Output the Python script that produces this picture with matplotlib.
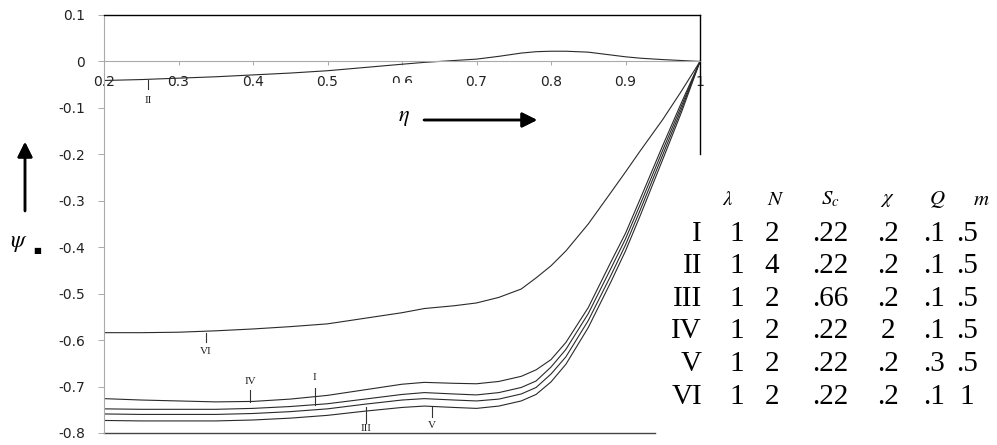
import matplotlib
matplotlib.use("Agg")
import matplotlib.pyplot as plt
from matplotlib.patches import Rectangle

# ---------------- data ----------------
eta = [0.2, 0.25, 0.3, 0.35, 0.4, 0.45, 0.5, 0.55, 0.6, 0.63, 0.67, 0.7, 0.73,
       0.76, 0.78, 0.8, 0.82, 0.85, 0.88, 0.9, 0.92, 0.95, 0.975, 1.0]

psi_I = [-0.748, -0.749, -0.749, -0.749, -0.747, -0.743, -0.737, -0.727, -0.717, -0.713,
         -0.716, -0.718, -0.713, -0.702, -0.688, -0.658, -0.620, -0.543, -0.447, -0.382,
         -0.307, -0.191, -0.096, 0.0]
psi_II = [-0.041, -0.039, -0.036, -0.033, -0.029, -0.025, -0.020, -0.013, -0.006, -0.002,
          0.002, 0.005, 0.011, 0.018, 0.021, 0.022, 0.022, 0.020, 0.014, 0.010,
          0.007, 0.004, 0.002, 0.0]
psi_III = [-0.759, -0.760, -0.760, -0.760, -0.758, -0.754, -0.748, -0.738, -0.729, -0.726,
           -0.729, -0.731, -0.727, -0.716, -0.702, -0.673, -0.636, -0.558, -0.462, -0.395,
           -0.319, -0.201, -0.103, 0.0]
psi_IV = [-0.726, -0.729, -0.731, -0.733, -0.732, -0.727, -0.719, -0.707, -0.695, -0.691,
          -0.693, -0.694, -0.689, -0.678, -0.664, -0.642, -0.605, -0.530, -0.433, -0.370,
          -0.295, -0.181, -0.089, 0.0]
psi_V = [-0.773, -0.774, -0.774, -0.774, -0.772, -0.768, -0.762, -0.753, -0.745, -0.742,
         -0.745, -0.747, -0.742, -0.731, -0.717, -0.690, -0.652, -0.573, -0.476, -0.408,
         -0.331, -0.211, -0.110, 0.0]
psi_VI = [-0.584, -0.584, -0.583, -0.580, -0.576, -0.571, -0.565, -0.553, -0.541, -0.532,
          -0.526, -0.520, -0.508, -0.490, -0.466, -0.440, -0.408, -0.350, -0.283, -0.238,
          -0.192, -0.125, -0.064, 0.0]

curves = {"I": psi_I, "II": psi_II, "III": psi_III, "IV": psi_IV, "V": psi_V, "VI": psi_VI}

# curve labels: name, eta, tick start, tick end, label y
curve_labels = [
    ("II", 0.259, -0.041, -0.060, -0.084),
    ("VI", 0.337, -0.584, -0.603, -0.625),
    ("IV", 0.396, -0.733, -0.707, -0.690),
    ("I", 0.483, -0.739, -0.703, -0.681),
    ("III", 0.552, -0.744, -0.778, -0.791),
    ("V", 0.640, -0.743, -0.765, -0.784),
]

x_ticks = [0.2, 0.3, 0.4, 0.5, 0.6, 0.7, 0.8, 0.9, 1.0]
x_ticklabels = ["0.2", "0.3", "0.4", "0.5", "0.6", "0.7", "0.8", "0.9", "1"]
y_ticks = [0.1, 0.0, -0.1, -0.2, -0.3, -0.4, -0.5, -0.6, -0.7, -0.8]
y_ticklabels = ["0.1", "0", "-0.1", "-0.2", "-0.3", "-0.4", "-0.5", "-0.6", "-0.7", "-0.8"]

table_header = [r"$\lambda$", r"$N$", r"$S_c$", r"$\chi$", r"$Q$", r"$m$"]
table_rows = ["I", "II", "III", "IV", "V", "VI"]
table_values = [
    ["1", "2", ".22", ".2", ".1", ".5"],
    ["1", "4", ".22", ".2", ".1", ".5"],
    ["1", "2", ".66", ".2", ".1", ".5"],
    ["1", "2", ".22", "2", ".1", ".5"],
    ["1", "2", ".22", ".2", ".3", ".5"],
    ["1", "2", ".22", ".2", ".1", "1"],
]

# ---------------- figure ----------------
W, H = 997, 445
plt.rcParams["mathtext.fontset"] = "stix"
fig = plt.figure(figsize=(W / 100, H / 100), dpi=100)


def px(x, y):
    return (x / W, 1 - y / H)


ax = fig.add_axes([104 / W, 12 / H, (700 - 104) / W, (433 - 15) / H])
ax.set_xlim(0.2, 1.0)
ax.set_ylim(-0.8, 0.1)

for name, vals in curves.items():
    ax.plot(eta, vals, color="#2a2a2a", lw=0.8, solid_joinstyle="round")

for name, xe, y0, y1, yl in curve_labels:
    ax.plot([xe, xe], [y0, y1], color="#333333", lw=0.8)
    ax.text(xe, yl, name, ha="center", va="center", fontsize=8,
            family="Liberation Serif", color="#222222")

# spines
ax.spines["right"].set_visible(False)
ax.spines["top"].set_color("black")
ax.spines["top"].set_linewidth(1.0)
ax.spines["left"].set_color("#aaaaaa")
ax.spines["left"].set_linestyle((0, (2, 1)))
ax.spines["left"].set_linewidth(0.8)
ax.spines["bottom"].set_position(("data", 0))
ax.spines["bottom"].set_color("#aaaaaa")
ax.spines["bottom"].set_linestyle((0, (2, 1)))
ax.spines["bottom"].set_linewidth(0.8)

# partial frame lines (rest hidden behind the parameter table in the original)
ax.plot([1.0, 1.0], [0.1, -0.2], color="black", lw=1.0, clip_on=False)
ax.plot([0.2, 0.94], [-0.8, -0.8], color="#444444", lw=1.0, clip_on=False)

ax.set_xticks(x_ticks)
ax.set_xticklabels(x_ticklabels)
ax.set_yticks(y_ticks)
ax.set_yticklabels(y_ticklabels)
ax.tick_params(axis="x", direction="out", length=3, width=0.7, color="#aaaaaa",
               pad=6.5, labelsize=10, labelcolor="#222222")
ax.tick_params(axis="y", direction="out", length=4.5, width=0.7, color="#aaaaaa",
               pad=9, labelsize=10, labelcolor="#222222")
for lbl in ax.get_xticklabels() + ax.get_yticklabels():
    lbl.set_family("DejaVu Sans")

# white box hiding part of the 0.6 label (as in the reference)
fig.patches.append(Rectangle(px(386, 125), 36 / W, 42 / H, transform=fig.transFigure,
                             facecolor="white", edgecolor="none", zorder=5))

# eta arrow
fig.text(*px(404, 118), r"$\eta$", fontsize=16, ha="center", va="center", zorder=10)
fig.add_artist(plt.annotate("", xy=px(537, 120), xytext=px(424, 120),
                            xycoords="figure fraction", textcoords="figure fraction",
                            arrowprops=dict(arrowstyle="-|>,head_length=0.9,head_width=0.45",
                                            color="black", lw=1.8, shrinkA=0, shrinkB=0)))

# psi arrow and label
fig.add_artist(plt.annotate("", xy=px(25, 142), xytext=px(25, 211),
                            xycoords="figure fraction", textcoords="figure fraction",
                            arrowprops=dict(arrowstyle="-|>,head_length=0.9,head_width=0.45",
                                            color="black", lw=1.8, shrinkA=0, shrinkB=0)))
fig.text(*px(19, 242), r"$\psi$", fontsize=17, ha="center", va="center")
fig.text(*px(37, 250), "\u25a0", fontsize=6, ha="center", va="center", family="DejaVu Sans")

# table
col_x = [737, 772, 830, 888, 934, 967]
head_x = [728, 776, 830, 887, 937, 981]
row_y = [234, 266, 299, 331, 364, 397]
for hx, h in zip(head_x, table_header):
    fig.text(*px(hx, 199), h, fontsize=15, ha="center", va="center")
for ry, rname, vals in zip(row_y, table_rows, table_values):
    fig.text(*px(702, ry), rname, fontsize=21, ha="right", va="center",
             family="Liberation Serif")
    for cx, v in zip(col_x, vals):
        fig.text(*px(cx, ry), v, fontsize=21, ha="center", va="center",
                 family="Liberation Serif")

fig.savefig("out.png", dpi=100)
